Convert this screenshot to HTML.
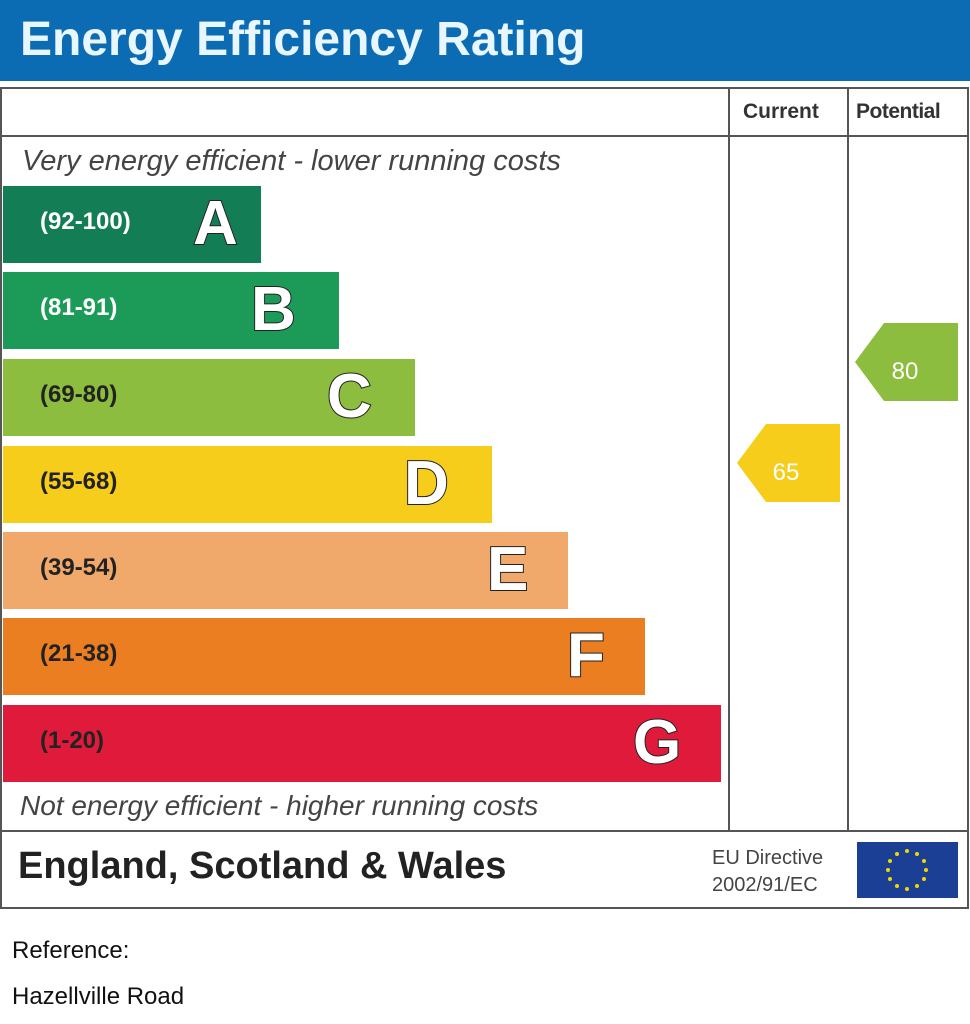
<!DOCTYPE html>
<html><head><style>
body{margin:0;width:970px;height:1024px;background:#fff;position:relative;overflow:hidden;font-family:"Liberation Sans",Arial,sans-serif}
.a{position:absolute}
.bar{position:absolute;left:3px;height:77px}
.rng{position:absolute;left:37px;top:22px;font-size:24px;font-weight:bold;color:#222}
.let{position:absolute;top:2px;font-size:62px;font-weight:bold;color:#fff;-webkit-text-stroke:2px #222;paint-order:stroke fill}
</style></head><body>
<div class="a" style="left:0;top:0;width:970px;height:81px;background:#0b6cb4"></div>
<div class="a" style="left:20px;top:12px;font-size:48px;font-weight:bold;color:#e8f6ff">Energy Efficiency Rating</div>
<div class="a" style="left:0;top:87px;width:965px;height:818px;border:2px solid #555"></div>
<div class="a" style="left:0;top:135px;width:969px;height:2px;background:#555"></div>
<div class="a" style="left:0;top:830px;width:969px;height:2px;background:#555"></div>
<div class="a" style="left:728px;top:87px;width:2px;height:744px;background:#555"></div>
<div class="a" style="left:847px;top:87px;width:2px;height:744px;background:#555"></div>
<div class="a" style="left:743px;top:100px;font-size:21px;font-weight:bold;color:#333">Current</div>
<div class="a" style="left:856px;top:100px;font-size:21px;font-weight:bold;color:#333;letter-spacing:-0.5px">Potential</div>
<div class="a" style="left:22px;top:145px;font-size:29px;font-style:italic;color:#444">Very energy efficient - lower running costs</div>
<div class="a" style="left:20px;top:790px;font-size:28px;font-style:italic;color:#444">Not energy efficient - higher running costs</div>

<div class="bar" style="top:186px;width:258px;background:#137e56"><span class="rng" style="color:#fff">(92-100)</span><span class="let" style="left:190px">A</span></div>
<div class="bar" style="top:272px;width:336px;background:#1b9b57"><span class="rng" style="color:#fff">(81-91)</span><span class="let" style="left:248px">B</span></div>
<div class="bar" style="top:359px;width:412px;background:#8dbd3e"><span class="rng">(69-80)</span><span class="let" style="left:324px">C</span></div>
<div class="bar" style="top:446px;width:489px;background:#f6cd1a"><span class="rng">(55-68)</span><span class="let" style="left:401px">D</span></div>
<div class="bar" style="top:532px;width:565px;background:#f0a96a"><span class="rng">(39-54)</span><span class="let" style="left:484px">E</span></div>
<div class="bar" style="top:618px;width:642px;background:#ec7e22"><span class="rng">(21-38)</span><span class="let" style="left:564px">F</span></div>
<div class="bar" style="top:705px;width:718px;background:#df1a3b"><span class="rng">(1-20)</span><span class="let" style="left:630px">G</span></div>

<svg class="a" style="left:0;top:0" width="970" height="1024">
<polygon points="737,463 766,424 840,424 840,502 766,502" fill="#f6cd1a"/>
<text x="786" y="480" font-size="24" fill="#fff" text-anchor="middle" font-family="Liberation Sans">65</text>
<polygon points="855,362 884,323 958,323 958,401 884,401" fill="#8dbd3e"/>
<text x="905" y="379" font-size="24" fill="#fff" text-anchor="middle" font-family="Liberation Sans">80</text>
<rect x="857" y="842" width="101" height="56" fill="#1a3f95"/>
<g fill="#f2d800">
<circle cx="907" cy="851" r="2"/><circle cx="917" cy="854" r="2"/><circle cx="924" cy="861" r="2"/><circle cx="926" cy="870" r="2"/><circle cx="924" cy="879" r="2"/><circle cx="917" cy="886" r="2"/><circle cx="907" cy="889" r="2"/><circle cx="897" cy="886" r="2"/><circle cx="890" cy="879" r="2"/><circle cx="888" cy="870" r="2"/><circle cx="890" cy="861" r="2"/><circle cx="897" cy="854" r="2"/>
</g>
</svg>
<div class="a" style="left:18px;top:845px;font-size:38px;font-weight:bold;color:#222">England, Scotland &amp; Wales</div>
<div class="a" style="left:712px;top:845px;font-size:20px;color:#444;line-height:27px">EU Directive<br>2002/91/EC</div>
<div class="a" style="left:12px;top:937px;font-size:24px;color:#111">Reference:</div>
<div class="a" style="left:12px;top:983px;font-size:24px;color:#111">Hazellville Road</div>
</body></html>
